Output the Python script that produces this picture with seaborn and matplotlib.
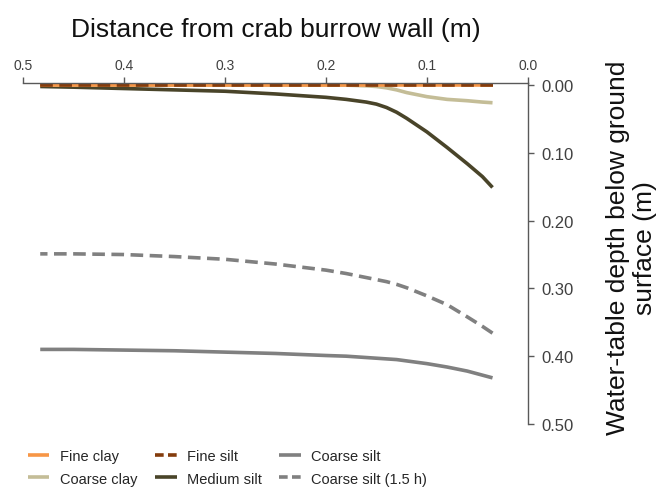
import matplotlib
matplotlib.use("Agg")
import matplotlib.pyplot as plt
from matplotlib.lines import Line2D
import seaborn as sns
import pandas as pd

# Distância à parede da toca (m) e profundidade do lençol freático (m)
distancia = [0.483, 0.45, 0.40, 0.35, 0.30, 0.25, 0.20, 0.18, 0.16, 0.15, 0.14, 0.13, 0.12, 0.10, 0.08, 0.06, 0.045, 0.035]

fine_clay = [0.000] * 18
fine_silt = [0.000] * 18
coarse_clay = [0.000, 0.000, 0.000, 0.000, 0.000, 0.000, 0.000, 0.000, 0.001, 0.002, 0.004, 0.007, 0.011, 0.017, 0.021, 0.023, 0.025, 0.026]
medium_silt = [0.002, 0.003, 0.005, 0.007, 0.009, 0.013, 0.018, 0.021, 0.025, 0.028, 0.033, 0.040, 0.049, 0.069, 0.092, 0.116, 0.135, 0.151]
coarse_silt = [0.390, 0.390, 0.391, 0.392, 0.394, 0.396, 0.399, 0.400, 0.402, 0.403, 0.404, 0.405, 0.407, 0.411, 0.416, 0.422, 0.428, 0.432]
coarse_silt_15h = [0.249, 0.249, 0.250, 0.253, 0.257, 0.264, 0.273, 0.278, 0.284, 0.287, 0.290, 0.294, 0.299, 0.311, 0.324, 0.342, 0.356, 0.366]

series = {
    "Fine clay": (fine_clay, "#F79646", "-"),
    "Coarse clay": (coarse_clay, "#C4BD97", "-"),
    "Fine silt": (fine_silt, "#843C0C", "--"),
    "Medium silt": (medium_silt, "#494429", "-"),
    "Coarse silt": (coarse_silt, "#808080", "-"),
    "Coarse silt (1.5 h)": (coarse_silt_15h, "#808080", "--"),
}

sns.set_style("white")
plt.rcParams["font.family"] = ["Liberation Sans", "DejaVu Sans"]

fig = plt.figure(figsize=(6.59, 4.89), dpi=100)
ax = fig.add_axes([0.035, 0.131, 0.766, 0.697])

# ordem de desenho: finos por cima
ordem = ["Coarse silt", "Coarse silt (1.5 h)", "Medium silt", "Coarse clay", "Fine clay", "Fine silt"]
for nome in ordem:
    valores, cor, estilo = series[nome]
    df = pd.DataFrame({"dist": distancia, "prof": valores})
    sns.lineplot(data=df, x="dist", y="prof", ax=ax, color=cor, linewidth=2.6,
                 linestyle=estilo, legend=False)
    linha = ax.get_lines()[-1]
    if estilo == "--":
        linha.set_dashes((3.5, 1.8))
    linha.set_solid_capstyle("butt")

ax.set_xlim(0.5, 0.0)
ax.set_ylim(0.5, -0.003)
ax.set_xticks([0.5, 0.4, 0.3, 0.2, 0.1, 0.0])
ax.set_xticklabels(["0.5", "0.4", "0.3", "0.2", "0.1", "0.0"])
ax.set_yticks([0.0, 0.1, 0.2, 0.3, 0.4, 0.5])
ax.set_yticklabels(["0.00", "0.10", "0.20", "0.30", "0.40", "0.50"])

ax.xaxis.tick_top()
ax.xaxis.set_label_position("top")
ax.yaxis.tick_right()
ax.yaxis.set_label_position("right")

for lado in ["bottom", "left"]:
    ax.spines[lado].set_visible(False)
for lado in ["top", "right"]:
    ax.spines[lado].set_visible(True)
    ax.spines[lado].set_color("#595959")
    ax.spines[lado].set_linewidth(1.0)

ax.tick_params(axis="both", direction="out", length=4, width=1.0, color="#595959",
               labelcolor="#404040")
ax.tick_params(axis="x", labelsize=10, pad=4)
ax.tick_params(axis="y", labelsize=12, pad=6)

ax.set_xlabel("Distance from crab burrow wall (m)", fontsize=19, color="#111111")
ax.xaxis.set_label_coords(0.5, 1.138)
ax.set_ylabel("Water-table depth below ground\nsurface (m)", fontsize=19,
              color="#111111", rotation=90)
ax.yaxis.set_label_coords(1.154, 0.52)

# legenda em 3 colunas (amostras próprias para mostrar dois traços)
nomes_leg = ["Fine clay", "Coarse clay", "Fine silt", "Medium silt", "Coarse silt", "Coarse silt (1.5 h)"]
handles = []
for nome in nomes_leg:
    _, cor, estilo = series[nome]
    h = Line2D([], [], color=cor, linewidth=2.6, solid_capstyle="butt")
    if estilo == "--":
        h.set_dashes((2.4, 1.2))
    handles.append(h)
fig.legend(handles, nomes_leg, ncol=3, loc="center left", bbox_to_anchor=(0.022, 1 - 468.5 / 489),
           frameon=False, fontsize=10.5, handlelength=1.5, columnspacing=1.2,
           labelspacing=0.55, handletextpad=0.7)

fig.savefig("out.png", dpi=100)
